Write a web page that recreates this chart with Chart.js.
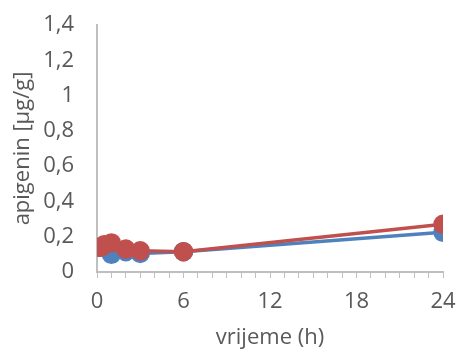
<!DOCTYPE html>
<html>
<head>
<meta charset="utf-8">
<script src="https://cdn.jsdelivr.net/npm/chart.js@4"></script>
<style>
  html, body { margin: 0; padding: 0; background: #fff; }
  #wrap { width: 458px; height: 358px; }
</style>
</head>
<body>
<div id="wrap"><canvas id="chart" width="458" height="358"></canvas></div>
<script>
// Data
const times = [0.25, 0.5, 1, 2, 3, 6, 24];
const blueValues = [0.14, 0.145, 0.10, 0.115, 0.105, 0.115, 0.225];
const redValues = [0.14, 0.155, 0.165, 0.13, 0.12, 0.115, 0.27];
const xTickLabels = [0, 6, 12, 18, 24];

const toPoints = (vals) => vals.map((v, i) => ({ x: times[i], y: v }));
const font = { family: "'Open Sans', 'Noto Sans', sans-serif", size: 22 };
const textColor = "#595959";

const chart = new Chart(document.getElementById("chart"), {
  type: "scatter",
  data: {
    datasets: [
      {
        label: "red",
        data: toPoints(redValues),
        showLine: true,
        borderColor: "#C0504D",
        backgroundColor: "#C0504D",
        borderWidth: 3.5,
        pointRadius: 8,
        pointHoverRadius: 8,
        order: 0,
      },
      {
        label: "blue",
        data: toPoints(blueValues),
        showLine: true,
        borderColor: "#4F81BD",
        backgroundColor: "#4F81BD",
        borderWidth: 3.5,
        pointRadius: 8,
        pointHoverRadius: 8,
        order: 1,
      },
    ],
  },
  options: {
    responsive: false,
    animation: false,
    layout: { padding: { top: 25, right: 15, left: 0, bottom: 0 } },
    plugins: { legend: { display: false }, tooltip: { enabled: false } },
    scales: {
      x: {
        type: "linear",
        min: 0,
        max: 24,
        afterFit: (scale) => {
          scale.height = 86;
          scale.paddingLeft = 0;
          scale.paddingRight = 0;
        },
        border: { color: "#bfbfbf", width: 2 },
        grid: { drawOnChartArea: false, drawTicks: true, tickLength: 6, color: "#bfbfbf" },
        ticks: {
          stepSize: 1,
          autoSkip: false,
          maxRotation: 0,
          color: textColor,
          font: font,
          padding: 11,
          callback: (v) => (xTickLabels.includes(v) ? String(v) : ""),
        },
        title: { display: true, text: "vrijeme (h)", color: textColor, font: font, padding: { top: 0, bottom: 7 } },
      },
      y: {
        min: 0,
        max: 1.4,
        afterFit: (scale) => {
          scale.width = 97;
          scale.paddingTop = 0;
          scale.paddingBottom = 0;
        },
        border: { color: "#bfbfbf", width: 2 },
        grid: { drawOnChartArea: false, drawTicks: false },
        ticks: {
          stepSize: 0.2,
          color: textColor,
          font: font,
          padding: 23,
          callback: (v) => String(Math.round(v * 10) / 10).replace(".", ","),
        },
        title: { display: true, text: "apigenin [µg/g]", color: textColor, font: font, padding: { top: 10, bottom: 0 } },
      },
    },
  },
});
</script>
</body>
</html>
